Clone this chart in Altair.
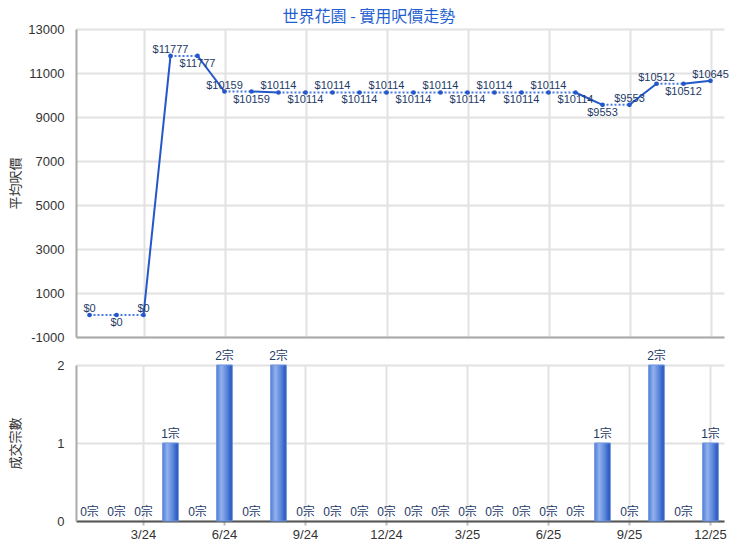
import altair as alt
import pandas as pd

months = ["1/24", "2/24", "3/24", "4/24", "5/24", "6/24", "7/24", "8/24", "9/24", "10/24", "11/24", "12/24",
          "1/25", "2/25", "3/25", "4/25", "5/25", "6/25", "7/25", "8/25", "9/25", "10/25", "11/25", "12/25"]
prices = [0, 0, 0, 11777, 11777, 10159, 10159, 10114, 10114, 10114, 10114, 10114,
          10114, 10114, 10114, 10114, 10114, 10114, 10114, 9553, 9553, 10512, 10512, 10645]
counts = [0, 0, 0, 1, 0, 2, 0, 2, 0, 0, 0, 0,
          0, 0, 0, 0, 0, 0, 0, 1, 0, 2, 0, 1]
label_side = ["above", "below", "above", "above", "below", "above", "below", "above", "below", "above", "below", "above",
              "below", "above", "below", "above", "below", "above", "below", "below", "above", "above", "below", "above"]
tick_months = ["3/24", "6/24", "9/24", "12/24", "3/25", "6/25", "9/25", "12/25"]
price_ticks = [-1000, 1000, 3000, 5000, 7000, 9000, 11000, 13000]
count_ticks = [0, 1, 2]

pts = pd.DataFrame({"month": months, "price": prices, "count": counts, "side": label_side})
pts["plabel"] = ["$" + str(p) for p in prices]
pts["clabel"] = [str(c) + "宗" for c in counts]

seg_rows = []
for i in range(1, len(months)):
    style = "solid" if counts[i] > 0 else "dotted"
    seg_rows.append({"seg": i, "month": months[i - 1], "price": prices[i - 1], "style": style, "ord": 0})
    seg_rows.append({"seg": i, "month": months[i], "price": prices[i], "style": style, "ord": 1})
segs = pd.DataFrame(seg_rows)

LABEL_FONT = "Arial, Liberation Sans"
CJK_FONT = "Noto Sans CJK TC"
W = 648

x_top = alt.X("month:O", sort=months, title=None,
              scale=alt.Scale(type="point", padding=0.5),
              axis=alt.Axis(values=tick_months, labels=False, ticks=False, grid=True,
                            gridColor="#e2e2e2", gridWidth=2,
                            domainColor="#aaaaaa", domainWidth=2))
y_top = alt.Y("price:Q", title="平均呎價",
              scale=alt.Scale(domain=[-1000, 13000], nice=False, zero=False),
              axis=alt.Axis(values=price_ticks, labelExpr="toString(datum.value)",
                            grid=True, gridColor="#e2e2e2", gridWidth=2,
                            ticks=False, labelPadding=12, labelFontSize=13, labelColor="#333333",
                            labelFont=LABEL_FONT, domainColor="#aaaaaa", domainWidth=2,
                            titleFont=CJK_FONT, titleFontSize=13, titleFontWeight="normal",
                            titleColor="#333333", titleX=-54))

base_top = alt.Chart(segs)
solid = base_top.transform_filter(alt.datum.style == "solid").mark_line(
    color="#2457c9", strokeWidth=2).encode(x=x_top, y=y_top, detail="seg:N", order="ord:Q")
dotted = base_top.transform_filter(alt.datum.style == "dotted").mark_line(
    color="#4a7ae0", strokeWidth=2, strokeDash=[2, 2]).encode(x=x_top, y=y_top, detail="seg:N", order="ord:Q")
points = alt.Chart(pts).mark_circle(size=22, color="#2457c9", opacity=1).encode(x=x_top, y=y_top)
lab_above = alt.Chart(pts).transform_filter(alt.datum.side == "above").mark_text(
    baseline="bottom", dy=-1, fontSize=11, font=LABEL_FONT, color="#1d3a66").encode(
    x=x_top, y=y_top, text="plabel:N")
lab_below = alt.Chart(pts).transform_filter(alt.datum.side == "below").mark_text(
    baseline="top", dy=2, fontSize=11, font=LABEL_FONT, color="#1d3a66").encode(
    x=x_top, y=y_top, text="plabel:N")

top = alt.layer(dotted, solid, points, lab_above, lab_below).properties(width=W, height=308)

x_bot = alt.X("month:O", sort=months, title=None,
              scale=alt.Scale(type="band", paddingInner=0, paddingOuter=0),
              axis=alt.Axis(values=tick_months, bandPosition=0.5, grid=True,
                            gridColor="#e2e2e2", gridWidth=2, labelAngle=0,
                            labelFontSize=13, labelColor="#333333", labelFont=LABEL_FONT,
                            labelPadding=3, ticks=True, tickSize=4, tickColor="#bbbbbb",
                            tickWidth=2, domainColor="#555555", domainWidth=2))
y_bot = alt.Y("count:Q", title="成交宗數",
              scale=alt.Scale(domain=[0, 2], nice=False),
              axis=alt.Axis(values=count_ticks, labelExpr="toString(datum.value)",
                            grid=True, gridColor="#e2e2e2", gridWidth=2,
                            ticks=False, labelPadding=12, labelFontSize=13, labelColor="#333333",
                            labelFont=LABEL_FONT, domainColor="#aaaaaa", domainWidth=2,
                            titleFont=CJK_FONT, titleFontSize=13, titleFontWeight="normal",
                            titleColor="#333333", titleX=-54))

bar_fill = alt.Gradient(gradient="linear", x1=0, x2=1, y1=0, y2=0, stops=[
    alt.GradientStop(color="#4f7ed8", offset=0),
    alt.GradientStop(color="#93b1ec", offset=0.3),
    alt.GradientStop(color="#5a86dc", offset=0.65),
    alt.GradientStop(color="#2150b8", offset=1),
])
bars = alt.Chart(pts).transform_filter(alt.datum.count > 0).mark_bar(
    width=alt.RelativeBandSize(0.58), color=bar_fill, stroke="#6f95e0", strokeWidth=1).encode(
    x=x_bot, y=y_bot)
bar_labels = alt.Chart(pts).mark_text(baseline="bottom", dy=-2, fontSize=12,
                                      font=LABEL_FONT + ", " + CJK_FONT, color="#1d3a66").encode(
    x=x_bot, y=y_bot, text="clabel:N")
bottom = alt.layer(bars, bar_labels).properties(width=W, height=156)

chart = alt.vconcat(top, bottom, spacing=6).properties(
    title=alt.TitleParams("世界花園 - 實用呎價走勢", fontSize=16, color="#1f5fd0", font=CJK_FONT,
                          fontWeight="normal", anchor="middle", frame="bounds", offset=-2),
    padding={"left": 1, "top": 1, "right": 0, "bottom": 0},
).configure_view(stroke=None)

chart.save("out.html", embed_options={"renderer": "svg", "actions": False})
